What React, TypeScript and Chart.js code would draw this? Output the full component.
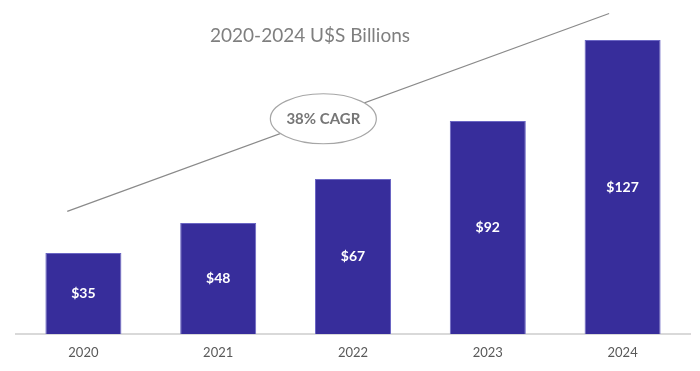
import React, { useEffect, useRef } from "react";
import { Chart, registerables } from "chart.js";

Chart.register(...registerables);

const categories = ["2020", "2021", "2022", "2023", "2024"];
const revenue = [35, 48, 67, 92, 127];
const valueLabels = ["$35", "$48", "$67", "$92", "$127"];
const chartTitle = "2020-2024 U$S Billions";
const cagrLabel = "38% CAGR";
// trend line endpoints in data units: [category index, value]
const trendStart = [-0.12, 53];
const trendEnd = [3.9, 138.5];
const cagrCenter = [1.78, 93];

const FONT = "Lato, 'Open Sans', sans-serif";

const overlayPlugin = {
  id: "overlay",
  afterDatasetsDraw(chart: any) {
    const { ctx, scales } = chart;
    const x = scales.x;
    const y = scales.y;
    const meta = chart.getDatasetMeta(0);
    ctx.save();
    // value labels inside bars
    ctx.fillStyle = "#ffffff";
    ctx.font = `bold 14px ${FONT}`;
    ctx.textAlign = "center";
    ctx.textBaseline = "middle";
    meta.data.forEach((bar: any, i: number) => {
      const mid = (bar.y + bar.base) / 2;
      ctx.fillText(valueLabels[i], bar.x, mid);
    });
    // trend line
    ctx.strokeStyle = "#8a8a8a";
    ctx.lineWidth = 1.2;
    ctx.beginPath();
    ctx.moveTo(x.getPixelForValue(trendStart[0]), y.getPixelForValue(trendStart[1]));
    ctx.lineTo(x.getPixelForValue(trendEnd[0]), y.getPixelForValue(trendEnd[1]));
    ctx.stroke();
    // ellipse
    const cx = x.getPixelForValue(cagrCenter[0]);
    const cy = y.getPixelForValue(cagrCenter[1]);
    ctx.beginPath();
    ctx.ellipse(cx, cy, 53, 25, 0, 0, Math.PI * 2);
    ctx.fillStyle = "#ffffff";
    ctx.fill();
    ctx.strokeStyle = "#a6a6a6";
    ctx.lineWidth = 1.2;
    ctx.stroke();
    ctx.fillStyle = "#767676";
    ctx.font = `bold 15px ${FONT}`;
    ctx.fillText(cagrLabel, cx, cy);
    // title
    ctx.fillStyle = "#7f7f7f";
    ctx.font = `19px ${FONT}`;
    ctx.fillText(chartTitle, 310, 36);
    ctx.restore();
  },
};

export default function App() {
  const ref = useRef<HTMLCanvasElement>(null);
  useEffect(() => {
    document.body.style.margin = "0";
    const chart = new Chart(ref.current!, {
      type: "bar",
      data: {
        labels: categories,
        datasets: [
          {
            data: revenue,
            backgroundColor: "#372d9b",
            borderColor: "#6b66c4",
            borderWidth: 1,
            categoryPercentage: 0.564,
            barPercentage: 1,
          },
        ],
      },
      options: {
        animation: false,
        responsive: false,
        layout: { padding: { left: 16, right: 10, top: 10, bottom: 0 } },
        plugins: { legend: { display: false }, tooltip: { enabled: false }, title: { display: false } },
        scales: {
          x: {
            grid: { display: false, drawTicks: false },
            border: { display: true, color: "#d9d9d9", width: 2 },
            ticks: { color: "#595959", font: { family: FONT, size: 13 }, padding: 11 },
            afterFit: (s: any) => {
              s.height = 37;
            },
          },
          y: { display: false, min: 0, max: 140 },
        },
      },
      plugins: [overlayPlugin],
    });
    return () => chart.destroy();
  }, []);
  return (
    <div style={{ width: 700, height: 371 }}>
      <canvas ref={ref} width={700} height={371} />
    </div>
  );
}
